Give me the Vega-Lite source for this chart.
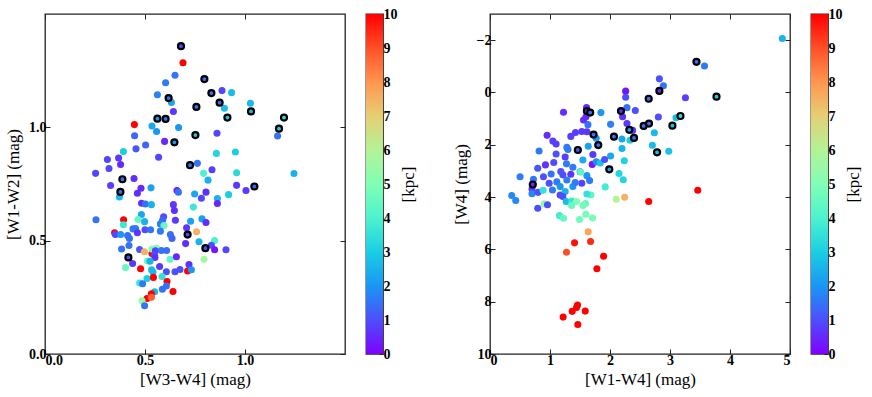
{
"$schema": "https://vega.github.io/schema/vega-lite/v6.json",
"background": "white",
"padding": {"left": 3, "top": 6, "right": 0, "bottom": 1},
"datasets": {
"L": [
{"x":0.535,"y":0.443,"d":10,"r":0},
{"x":0.68,"y":1.358,"d":1,"r":1},{"x":0.69,"y":1.285,"d":10,"r":0},{"x":0.65,"y":1.23,"d":1.5,"r":0},{"x":0.603,"y":1.197,"d":1.6,"r":0},
{"x":0.797,"y":1.213,"d":1.5,"r":1},{"x":0.885,"y":1.162,"d":0.9,"r":0},{"x":0.933,"y":1.153,"d":2.7,"r":0},{"x":0.832,"y":1.151,"d":1.5,"r":1},
{"x":0.562,"y":1.144,"d":1.7,"r":0},{"x":0.618,"y":1.129,"d":1.5,"r":1},{"x":0.632,"y":1.11,"d":2.3,"r":0},{"x":0.873,"y":1.109,"d":1.3,"r":1},
{"x":0.757,"y":1.09,"d":1.5,"r":1},{"x":0.897,"y":1.084,"d":2.7,"r":0},{"x":1.027,"y":1.106,"d":2.6,"r":0},{"x":1.03,"y":1.07,"d":2.7,"r":1},
{"x":0.642,"y":1.07,"d":0.7,"r":0},{"x":0.562,"y":1.038,"d":2,"r":1},{"x":0.603,"y":1.037,"d":1.5,"r":1},{"x":0.912,"y":1.043,"d":2.8,"r":1},
{"x":1.195,"y":1.043,"d":3.5,"r":1},{"x":0.447,"y":1.012,"d":10,"r":0},{"x":0.535,"y":1.006,"d":2.3,"r":0},{"x":0.668,"y":0.999,"d":2,"r":0},
{"x":0.558,"y":0.982,"d":2,"r":0},{"x":1.17,"y":0.994,"d":3,"r":1},{"x":0.448,"y":0.963,"d":1.3,"r":0},{"x":0.752,"y":0.966,"d":3,"r":1},
{"x":0.86,"y":0.974,"d":0.9,"r":0},{"x":1.163,"y":0.962,"d":1.5,"r":0},{"x":0.598,"y":0.938,"d":0.5,"r":0},{"x":0.647,"y":0.934,"d":2,"r":1},
{"x":0.503,"y":0.922,"d":1.3,"r":0},{"x":0.455,"y":0.905,"d":1.1,"r":0},{"x":0.392,"y":0.893,"d":3,"r":0},{"x":0.568,"y":0.868,"d":0.9,"r":0},
{"x":0.312,"y":0.858,"d":0.9,"r":0},{"x":0.368,"y":0.865,"d":0.7,"r":0},{"x":0.857,"y":0.885,"d":3.2,"r":0},{"x":0.952,"y":0.891,"d":3,"r":0},
{"x":0.725,"y":0.833,"d":1.5,"r":1},{"x":0.762,"y":0.841,"d":1.5,"r":0},{"x":0.378,"y":0.836,"d":0.5,"r":0},{"x":0.32,"y":0.818,"d":0.9,"r":0},
{"x":0.793,"y":0.797,"d":4,"r":0},{"x":0.835,"y":0.813,"d":0.8,"r":0},{"x":0.958,"y":0.8,"d":3.3,"r":0},{"x":1.245,"y":0.796,"d":2.5,"r":0},
{"x":0.253,"y":0.797,"d":0.9,"r":0},{"x":0.445,"y":0.774,"d":0.6,"r":0},{"x":0.387,"y":0.771,"d":1.5,"r":1},{"x":0.815,"y":0.767,"d":2.5,"r":0},
{"x":0.328,"y":0.743,"d":0.8,"r":0},{"x":1.047,"y":0.739,"d":1.3,"r":1},{"x":1.005,"y":0.721,"d":0.7,"r":0},{"x":0.958,"y":0.744,"d":0.7,"r":0},
{"x":0.48,"y":0.731,"d":0.5,"r":0},{"x":0.53,"y":0.733,"d":2.2,"r":0},{"x":0.462,"y":0.709,"d":0.6,"r":0},{"x":0.66,"y":0.721,"d":0.3,"r":0},
{"x":0.667,"y":0.714,"d":1.5,"r":0},{"x":0.377,"y":0.715,"d":1.5,"r":1},{"x":0.372,"y":0.693,"d":2.6,"r":0},{"x":0.748,"y":0.706,"d":2.3,"r":0},
{"x":0.805,"y":0.714,"d":0.6,"r":0},{"x":0.782,"y":0.687,"d":0.9,"r":0},{"x":0.862,"y":0.686,"d":2.5,"r":0},{"x":0.918,"y":0.703,"d":3,"r":0},
{"x":0.862,"y":0.664,"d":0.5,"r":0},{"x":0.483,"y":0.665,"d":0.6,"r":0},{"x":0.502,"y":0.662,"d":1.5,"r":0},{"x":0.532,"y":0.659,"d":2.5,"r":0},
{"x":0.642,"y":0.659,"d":0.7,"r":0},{"x":0.647,"y":0.633,"d":0.6,"r":0},{"x":0.742,"y":0.648,"d":3.7,"r":0},{"x":0.255,"y":0.592,"d":1.5,"r":0},
{"x":0.393,"y":0.592,"d":10,"r":0},{"x":0.482,"y":0.615,"d":2.3,"r":0},{"x":0.593,"y":0.605,"d":1,"r":0},{"x":0.588,"y":0.59,"d":1.3,"r":0},
{"x":0.652,"y":0.59,"d":0.7,"r":0},{"x":0.728,"y":0.586,"d":2.2,"r":0},{"x":0.785,"y":0.596,"d":2.2,"r":0},{"x":0.805,"y":0.58,"d":0.6,"r":0},
{"x":0.392,"y":0.57,"d":3.7,"r":0},{"x":0.465,"y":0.593,"d":4.5,"r":0},{"x":0.498,"y":0.584,"d":2.5,"r":0},{"x":0.577,"y":0.574,"d":1.6,"r":0},
{"x":0.595,"y":0.567,"d":4.5,"r":0},{"x":0.348,"y":0.535,"d":10,"r":0},{"x":0.352,"y":0.527,"d":0.9,"r":0},{"x":0.378,"y":0.527,"d":2,"r":0},
{"x":0.413,"y":0.523,"d":1.5,"r":0},{"x":0.422,"y":0.51,"d":1.5,"r":0},{"x":0.44,"y":0.552,"d":1.6,"r":0},{"x":0.453,"y":0.553,"d":1.6,"r":0},
{"x":0.462,"y":0.535,"d":0.7,"r":0},{"x":0.5,"y":0.548,"d":1,"r":0},{"x":0.528,"y":0.548,"d":1.5,"r":0},{"x":0.577,"y":0.542,"d":1.6,"r":0},
{"x":0.627,"y":0.527,"d":1.5,"r":0},{"x":0.635,"y":0.51,"d":1.3,"r":0},{"x":0.713,"y":0.527,"d":1,"r":1},{"x":0.708,"y":0.557,"d":0.7,"r":0},
{"x":0.758,"y":0.539,"d":7.5,"r":0},{"x":0.703,"y":0.487,"d":0.6,"r":0},{"x":0.77,"y":0.495,"d":2.5,"r":0},{"x":0.848,"y":0.501,"d":4,"r":0},
{"x":0.832,"y":0.48,"d":1,"r":0},{"x":0.802,"y":0.467,"d":1,"r":1},{"x":0.848,"y":0.46,"d":0.3,"r":0},{"x":0.905,"y":0.46,"d":0.9,"r":0},
{"x":0.383,"y":0.463,"d":1.5,"r":0},{"x":0.42,"y":0.479,"d":1.5,"r":0},{"x":0.473,"y":0.461,"d":1.1,"r":0},{"x":0.497,"y":0.451,"d":7.5,"r":0},
{"x":0.417,"y":0.426,"d":1,"r":1},{"x":0.438,"y":0.399,"d":0.7,"r":0},{"x":0.403,"y":0.382,"d":4.5,"r":0},{"x":0.535,"y":0.463,"d":5,"r":0},
{"x":0.557,"y":0.468,"d":5.3,"r":0},{"x":0.552,"y":0.455,"d":0.8,"r":0},{"x":0.548,"y":0.436,"d":1,"r":0},{"x":0.582,"y":0.457,"d":1.5,"r":0},
{"x":0.608,"y":0.457,"d":1.5,"r":0},{"x":0.55,"y":0.426,"d":0.6,"r":0},{"x":0.512,"y":0.41,"d":4.5,"r":0},{"x":0.525,"y":0.409,"d":2.5,"r":0},
{"x":0.625,"y":0.418,"d":4.3,"r":0},{"x":0.657,"y":0.429,"d":0.5,"r":0},{"x":0.573,"y":0.386,"d":0.7,"r":0},{"x":0.607,"y":0.363,"d":1,"r":0},
{"x":0.65,"y":0.363,"d":1,"r":0},{"x":0.675,"y":0.373,"d":1,"r":0},{"x":0.72,"y":0.395,"d":0.6,"r":0},{"x":0.713,"y":0.366,"d":10,"r":0},
{"x":0.732,"y":0.372,"d":2,"r":0},{"x":0.795,"y":0.418,"d":5.7,"r":0},{"x":0.478,"y":0.376,"d":10,"r":0},{"x":0.533,"y":0.372,"d":2.6,"r":0},
{"x":0.54,"y":0.362,"d":2.6,"r":0},{"x":0.51,"y":0.333,"d":3,"r":0},{"x":0.542,"y":0.338,"d":10,"r":0},{"x":0.585,"y":0.342,"d":3.5,"r":0},
{"x":0.473,"y":0.313,"d":3.7,"r":0},{"x":0.488,"y":0.31,"d":1.6,"r":0},{"x":0.61,"y":0.32,"d":10,"r":0},{"x":0.607,"y":0.3,"d":1.5,"r":0},
{"x":0.587,"y":0.286,"d":1.5,"r":0},{"x":0.548,"y":0.275,"d":2.6,"r":0},{"x":0.64,"y":0.276,"d":10,"r":0},{"x":0.532,"y":0.266,"d":10,"r":0},
{"x":0.51,"y":0.245,"d":10,"r":0},{"x":0.532,"y":0.25,"d":8.8,"r":0},{"x":0.485,"y":0.235,"d":5.5,"r":0},{"x":0.498,"y":0.213,"d":1.5,"r":0}
],
"R": [
{"x":4.872,"y":-2.06,"d":2.5,"r":0},{"x":3.441,"y":-1.17,"d":1.5,"r":1},{"x":3.575,"y":-1.01,"d":1.6,"r":0},{"x":2.823,"y":-0.52,"d":1,"r":0},
{"x":2.89,"y":-0.26,"d":1.5,"r":0},{"x":2.823,"y":-0.06,"d":0.5,"r":1},{"x":2.645,"y":0.24,"d":1.5,"r":1},{"x":3.775,"y":0.16,"d":3,"r":1},
{"x":3.257,"y":0.2,"d":0.8,"r":0},{"x":2.261,"y":-0.05,"d":0.3,"r":0},{"x":2.261,"y":0.18,"d":1,"r":0},{"x":2.283,"y":0.58,"d":1.5,"r":0},
{"x":2.422,"y":0.69,"d":1,"r":0},{"x":2.183,"y":0.71,"d":0.5,"r":1},{"x":2.21,"y":0.93,"d":0.6,"r":0},{"x":1.849,"y":0.77,"d":2,"r":0},
{"x":1.609,"y":0.58,"d":0.5,"r":0},{"x":1.615,"y":0.71,"d":0.5,"r":1},{"x":1.67,"y":0.77,"d":1.5,"r":1},{"x":1.225,"y":0.76,"d":0.6,"r":0},
{"x":2.01,"y":1.22,"d":1.7,"r":0},{"x":2.283,"y":1.19,"d":0.7,"r":0},{"x":2.322,"y":1.43,"d":2.2,"r":1},{"x":2.378,"y":1.45,"d":0.7,"r":0},
{"x":2.561,"y":1.28,"d":1.5,"r":1},{"x":2.65,"y":1.19,"d":1.5,"r":1},{"x":2.806,"y":0.94,"d":1,"r":0},{"x":3.174,"y":0.9,"d":3.5,"r":1},
{"x":3.1,"y":0.97,"d":2.7,"r":0},{"x":3.04,"y":1.27,"d":2.8,"r":1},{"x":2.739,"y":1.54,"d":2.6,"r":0},{"x":2.4,"y":1.74,"d":1.5,"r":1},
{"x":2.333,"y":1.83,"d":3,"r":0},{"x":2.199,"y":1.78,"d":2.3,"r":0},{"x":2.066,"y":1.69,"d":1.5,"r":1},{"x":2.2,"y":2.14,"d":2.5,"r":0},
{"x":2.706,"y":2.02,"d":2.7,"r":0},{"x":2.784,"y":2.29,"d":2.8,"r":1},{"x":2.979,"y":2.25,"d":2.8,"r":0},{"x":2.238,"y":2.61,"d":3.1,"r":0},
{"x":2.01,"y":2.43,"d":2.3,"r":0},{"x":1.988,"y":2.94,"d":2.2,"r":1},{"x":2.15,"y":3.1,"d":3.2,"r":0},{"x":2.221,"y":3.34,"d":3.2,"r":0},
{"x":1.921,"y":3.61,"d":3.8,"r":0},{"x":1.726,"y":1.61,"d":1.5,"r":1},{"x":1.804,"y":2.01,"d":1.5,"r":1},{"x":1.77,"y":1.75,"d":2,"r":0},
{"x":1.632,"y":1.23,"d":1.5,"r":0},{"x":1.559,"y":1.05,"d":0.6,"r":0},{"x":1.6,"y":0.93,"d":0.5,"r":0},{"x":1.615,"y":1.5,"d":0.7,"r":0},
{"x":1.53,"y":1.49,"d":0.7,"r":0},{"x":1.425,"y":1.53,"d":0.8,"r":0},{"x":1.347,"y":1.68,"d":0.8,"r":0},{"x":1.464,"y":2.2,"d":1,"r":1},
{"x":1.637,"y":2.06,"d":2.2,"r":0},{"x":1.548,"y":2.58,"d":2.4,"r":0},{"x":1.715,"y":2.37,"d":0.7,"r":0},{"x":1.704,"y":2.75,"d":0.3,"r":0},
{"x":1.77,"y":2.65,"d":1.8,"r":0},{"x":1.837,"y":2.7,"d":2.8,"r":0},{"x":1.91,"y":2.56,"d":1,"r":0},{"x":1.281,"y":2.1,"d":1.6,"r":0},
{"x":1.3,"y":2.18,"d":1.6,"r":0},{"x":1.253,"y":2.47,"d":0.8,"r":0},{"x":1.275,"y":2.73,"d":1.6,"r":0},{"x":1.381,"y":2.86,"d":1.6,"r":0},
{"x":1.503,"y":3.03,"d":1.2,"r":0},{"x":1.615,"y":3.18,"d":2,"r":0},{"x":1.66,"y":3.37,"d":1.6,"r":0},{"x":1.53,"y":3.47,"d":0.8,"r":0},
{"x":1.509,"y":3.04,"d":4.3,"r":0},{"x":1.102,"y":1.97,"d":0.8,"r":0},{"x":1.047,"y":1.86,"d":0.8,"r":0},{"x":0.952,"y":1.64,"d":0.6,"r":0},
{"x":1.102,"y":2.35,"d":1,"r":0},{"x":0.818,"y":2.24,"d":1.6,"r":0},{"x":1.063,"y":2.68,"d":1,"r":0},{"x":0.924,"y":2.77,"d":0.7,"r":0},
{"x":0.796,"y":2.9,"d":1.1,"r":0},{"x":1.019,"y":3.12,"d":1.5,"r":0},{"x":0.891,"y":3.22,"d":1,"r":0},{"x":0.501,"y":3.22,"d":1.6,"r":0},
{"x":0.724,"y":3.32,"d":1.6,"r":0},{"x":0.713,"y":3.52,"d":0.5,"r":1},{"x":0.7,"y":3.69,"d":0.7,"r":0},{"x":0.7,"y":3.87,"d":1.8,"r":0},
{"x":0.362,"y":3.94,"d":1.8,"r":0},{"x":0.429,"y":4.13,"d":1.8,"r":0},{"x":0.802,"y":3.82,"d":1,"r":0},{"x":0.885,"y":3.74,"d":3.5,"r":0},
{"x":0.902,"y":4.26,"d":5.5,"r":0},{"x":0.796,"y":4.43,"d":1,"r":0},{"x":0.958,"y":4.29,"d":1,"r":0},{"x":0.986,"y":3.47,"d":1,"r":0},
{"x":1.114,"y":3.42,"d":1.6,"r":0},{"x":1.041,"y":3.73,"d":1.6,"r":0},{"x":1.169,"y":3.92,"d":0.9,"r":0},{"x":1.214,"y":3.15,"d":1,"r":0},
{"x":1.18,"y":3.02,"d":1,"r":0},{"x":1.347,"y":3.13,"d":0.7,"r":0},{"x":1.281,"y":3.35,"d":1.6,"r":0},{"x":1.381,"y":3.6,"d":2,"r":0},
{"x":1.42,"y":3.44,"d":1.6,"r":0},{"x":1.169,"y":3.6,"d":2,"r":0},{"x":1.253,"y":3.79,"d":2.5,"r":0},{"x":1.214,"y":3.98,"d":1,"r":0},
{"x":1.27,"y":4.17,"d":2.7,"r":0},{"x":1.364,"y":4.15,"d":3.6,"r":0},{"x":1.442,"y":4.17,"d":5,"r":0},{"x":1.359,"y":4.32,"d":4.5,"r":0},
{"x":1.592,"y":4.25,"d":4.5,"r":0},{"x":1.548,"y":4.32,"d":4.7,"r":0},{"x":1.682,"y":3.92,"d":4.3,"r":0},{"x":1.615,"y":3.88,"d":3.5,"r":0},
{"x":1.158,"y":4.71,"d":3.8,"r":0},{"x":1.225,"y":4.81,"d":4.5,"r":0},{"x":1.598,"y":4.66,"d":4.8,"r":0},{"x":1.492,"y":4.86,"d":4.7,"r":0},
{"x":1.709,"y":4.8,"d":4.8,"r":0},{"x":2.105,"y":4.08,"d":6,"r":0},{"x":2.244,"y":4.01,"d":7.5,"r":0},{"x":2.645,"y":4.17,"d":10,"r":0},
{"x":3.463,"y":3.74,"d":10,"r":0},{"x":1.637,"y":5.33,"d":7.7,"r":0},{"x":1.409,"y":5.75,"d":9.8,"r":0},{"x":1.676,"y":5.7,"d":9.5,"r":0},
{"x":1.275,"y":6.11,"d":9,"r":0},{"x":1.893,"y":6.26,"d":10,"r":0},{"x":1.782,"y":6.74,"d":10,"r":0},{"x":1.459,"y":8.13,"d":10,"r":0},
{"x":1.442,"y":8.22,"d":10,"r":0},{"x":1.37,"y":8.37,"d":10,"r":0},{"x":1.587,"y":8.36,"d":10,"r":0},{"x":1.219,"y":8.59,"d":10,"r":0},
{"x":1.464,"y":8.87,"d":10,"r":0}
],
"CB": [{"lo": 0, "hi": 10}]
},
"config": {
"font": "Liberation Serif",
"view": {"stroke": "#222", "strokeWidth": 1.3},
"axis": {"grid": false, "domain": false, "tickSize": -5, "tickColor": "#222", "tickWidth": 1,
 "labelFont": "Liberation Serif", "labelFontWeight": "bold", "labelFontSize": 14, "labelColor": "black", "labelPadding": 4,
 "titleFont": "Liberation Serif", "titleFontWeight": "normal", "titleFontSize": 17, "titleColor": "black"}
},
"spacing": 34,
"hconcat": [
{"spacing": 18, "hconcat": [
{
 "width": 300, "height": 340,
 "data": {"name": "L"},
 "resolve": {"axis": {"x": "independent", "y": "independent"}},
 "layer": [
  {"mark": {"type": "circle", "size": 50, "opacity": 1},
   "encoding": {
    "x": {"field": "x", "type": "quantitative", "scale": {"domain": [0, 1.5], "nice": false, "zero": false},
      "axis": {"orient": "bottom", "values": [0, 0.5, 1.0], "format": ".1f", "title": "[W3-W4] (mag)", "titlePadding": 4}},
    "y": {"field": "y", "type": "quantitative", "scale": {"domain": [0, 1.5], "nice": false, "zero": false},
      "axis": {"orient": "left", "values": [0, 0.5, 1.0], "format": ".1f", "title": "[W1-W2] (mag)", "titlePadding": 6}},
    "color": {"field": "d", "type": "quantitative",
      "scale": {"type": "linear", "domain": [0,1,2,3,4,5,6,7,8,9,10], "range": ["#8000ff","#4d4ffc","#1a96f3","#1acee3","#4df3ce","#80ffb4","#b3f396","#e6ce74","#ff964f","#ff4f28","#ff0000"], "interpolate": "rgb"},
      "legend": null}
   }},
  {"transform": [{"filter": "datum.r == 1"}],
   "mark": {"type": "point", "shape": "circle", "filled": true, "size": 36, "stroke": "black", "strokeWidth": 2.2, "opacity": 1},
   "encoding": {
    "x": {"field": "x", "type": "quantitative", "scale": {"domain": [0, 1.5], "nice": false, "zero": false},
      "axis": {"orient": "top", "values": [0, 0.5, 1.0], "labels": false, "title": null}},
    "y": {"field": "y", "type": "quantitative", "scale": {"domain": [0, 1.5], "nice": false, "zero": false},
      "axis": {"orient": "right", "values": [0, 0.5, 1.0], "labels": false, "title": null}},
    "fill": {"field": "d", "type": "quantitative",
      "scale": {"type": "linear", "domain": [0,1,2,3,4,5,6,7,8,9,10], "range": ["#8000ff","#4d4ffc","#1a96f3","#1acee3","#4df3ce","#80ffb4","#b3f396","#e6ce74","#ff964f","#ff4f28","#ff0000"], "interpolate": "rgb"},
      "legend": null}
   }}
 ]
},
{
 "width": 17, "height": 340,
 "data": {"name": "CB"},
 "mark": {"type": "rect", "color": {"gradient": "linear", "x1": 0, "y1": 1, "x2": 0, "y2": 0, "stops": [
   {"offset": 0, "color": "#8000ff"}, {"offset": 0.1, "color": "#4d4ffc"}, {"offset": 0.2, "color": "#1a96f3"}, {"offset": 0.3, "color": "#1acee3"},
   {"offset": 0.4, "color": "#4df3ce"}, {"offset": 0.5, "color": "#80ffb4"}, {"offset": 0.6, "color": "#b3f396"}, {"offset": 0.7, "color": "#e6ce74"},
   {"offset": 0.8, "color": "#ff964f"}, {"offset": 0.9, "color": "#ff4f28"}, {"offset": 1, "color": "#ff0000"}]}},
 "encoding": {
  "y": {"field": "lo", "type": "quantitative", "scale": {"domain": [0, 10], "nice": false, "zero": false},
    "axis": {"orient": "right", "values": [0,1,2,3,4,5,6,7,8,9,10], "format": "d", "title": "[kpc]", "titleAngle": 270, "titleBaseline": "top", "titlePadding": 3, "tickSize": -4, "labelPadding": 4}},
  "y2": {"field": "hi"}
 }
}
]},
{"spacing": 18, "hconcat": [
{
 "width": 300, "height": 340,
 "data": {"name": "R"},
 "resolve": {"axis": {"x": "independent", "y": "independent"}},
 "layer": [
  {"mark": {"type": "circle", "size": 50, "opacity": 1},
   "encoding": {
    "x": {"field": "x", "type": "quantitative", "scale": {"domain": [0, 5], "nice": false, "zero": false},
      "axis": {"orient": "bottom", "values": [0,1,2,3,4,5], "format": "d", "title": "[W1-W4] (mag)", "titlePadding": 4}},
    "y": {"field": "y", "type": "quantitative", "scale": {"domain": [-3, 10], "reverse": true, "nice": false, "zero": false},
      "axis": {"orient": "left", "values": [-2,0,2,4,6,8,10], "format": "d", "title": "[W4] (mag)", "titlePadding": 6}},
    "color": {"field": "d", "type": "quantitative",
      "scale": {"type": "linear", "domain": [0,1,2,3,4,5,6,7,8,9,10], "range": ["#8000ff","#4d4ffc","#1a96f3","#1acee3","#4df3ce","#80ffb4","#b3f396","#e6ce74","#ff964f","#ff4f28","#ff0000"], "interpolate": "rgb"},
      "legend": null}
   }},
  {"transform": [{"filter": "datum.r == 1"}],
   "mark": {"type": "point", "shape": "circle", "filled": true, "size": 36, "stroke": "black", "strokeWidth": 2.2, "opacity": 1},
   "encoding": {
    "x": {"field": "x", "type": "quantitative", "scale": {"domain": [0, 5], "nice": false, "zero": false},
      "axis": {"orient": "top", "values": [0,1,2,3,4,5], "labels": false, "title": null}},
    "y": {"field": "y", "type": "quantitative", "scale": {"domain": [-3, 10], "reverse": true, "nice": false, "zero": false},
      "axis": {"orient": "right", "values": [-2,0,2,4,6,8,10], "labels": false, "title": null}},
    "fill": {"field": "d", "type": "quantitative",
      "scale": {"type": "linear", "domain": [0,1,2,3,4,5,6,7,8,9,10], "range": ["#8000ff","#4d4ffc","#1a96f3","#1acee3","#4df3ce","#80ffb4","#b3f396","#e6ce74","#ff964f","#ff4f28","#ff0000"], "interpolate": "rgb"},
      "legend": null}
   }}
 ]
},
{
 "width": 17, "height": 340,
 "data": {"name": "CB"},
 "mark": {"type": "rect", "color": {"gradient": "linear", "x1": 0, "y1": 1, "x2": 0, "y2": 0, "stops": [
   {"offset": 0, "color": "#8000ff"}, {"offset": 0.1, "color": "#4d4ffc"}, {"offset": 0.2, "color": "#1a96f3"}, {"offset": 0.3, "color": "#1acee3"},
   {"offset": 0.4, "color": "#4df3ce"}, {"offset": 0.5, "color": "#80ffb4"}, {"offset": 0.6, "color": "#b3f396"}, {"offset": 0.7, "color": "#e6ce74"},
   {"offset": 0.8, "color": "#ff964f"}, {"offset": 0.9, "color": "#ff4f28"}, {"offset": 1, "color": "#ff0000"}]}},
 "encoding": {
  "y": {"field": "lo", "type": "quantitative", "scale": {"domain": [0, 10], "nice": false, "zero": false},
    "axis": {"orient": "right", "values": [0,1,2,3,4,5,6,7,8,9,10], "format": "d", "title": "[kpc]", "titleAngle": 270, "titleBaseline": "top", "titlePadding": 3, "tickSize": -4, "labelPadding": 4}},
  "y2": {"field": "hi"}
 }
}
]}
]
}
